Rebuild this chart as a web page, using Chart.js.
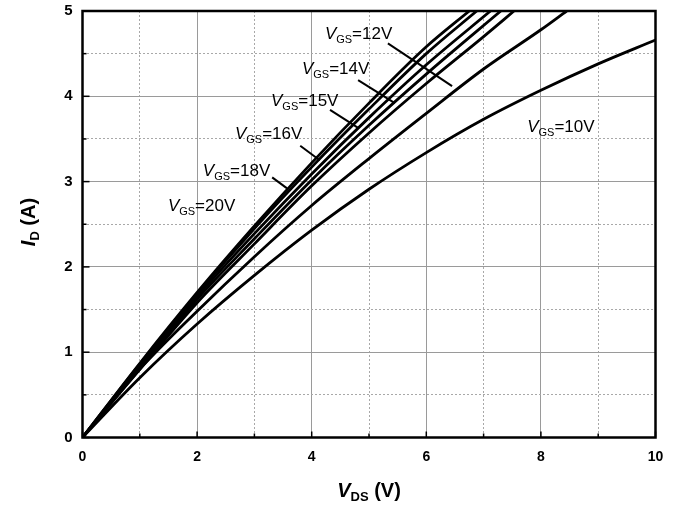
<!DOCTYPE html>
<html>
<head>
<meta charset="utf-8">
<script src="https://cdn.jsdelivr.net/npm/chart.js@4/dist/chart.umd.min.js"></script>
<style>
  body { margin: 0; background: #fff; }
  #wrap { width: 682px; height: 509px; }
</style>
</head>
<body>
<div id="wrap"><canvas id="ivChart" width="682" height="509"></canvas></div>
<script>
// Output characteristics, I_D vs V_DS for several gate voltages
const vds20 = [0, 1, 2, 3, 4, 5, 6, 6.75];
const id20  = [0, 0.87, 1.70, 2.48, 3.22, 3.92, 4.58, 5.0];
const vds18 = [0, 1, 2, 3, 4, 5, 6, 6.88];
const id18  = [0, 0.86, 1.68, 2.45, 3.17, 3.85, 4.50, 5.0];
const vds16 = [0, 1, 2, 3, 4, 5, 6, 7.12];
const id16  = [0, 0.84, 1.65, 2.39, 3.09, 3.75, 4.37, 5.0];
const vds15 = [0, 1, 2, 3, 4, 5, 6, 7.3];
const id15  = [0, 0.82, 1.62, 2.33, 3.02, 3.66, 4.26, 5.0];
const vds14 = [0, 1, 2, 3, 4, 5, 6, 7, 7.53];
const id14  = [0, 0.80, 1.58, 2.27, 2.95, 3.57, 4.15, 4.70, 5.0];
const vds12 = [0, 1, 2, 3, 4, 5, 6, 7, 8, 8.45];
const id12  = [0, 0.80, 1.48, 2.12, 2.72, 3.27, 3.80, 4.32, 4.78, 5.0];
const vds10 = [0, 1, 2, 3, 4, 5, 6, 7, 8, 9, 10];
const id10  = [0, 0.70, 1.33, 1.90, 2.43, 2.91, 3.34, 3.73, 4.07, 4.38, 4.66];

const gateVolts = ["20", "18", "16", "15", "14", "12", "10"];
const xTicks = [0, 2, 4, 6, 8, 10];
const yTicks = [0, 1, 2, 3, 4, 5];

// curve labels (data units): text anchor + leader line
const notes = [
  { v: "12", x: 4.23, y: 4.74, line: [5.33, 4.62, 6.45, 4.12] },
  { v: "14", x: 3.83, y: 4.33, line: [4.81, 4.19, 5.45, 3.92] },
  { v: "15", x: 3.29, y: 3.96, line: [4.32, 3.84, 4.81, 3.63] },
  { v: "16", x: 2.66, y: 3.57, line: [3.80, 3.42, 4.14, 3.25] },
  { v: "18", x: 2.10, y: 3.14, line: [3.31, 3.05, 3.57, 2.92] },
  { v: "20", x: 1.49, y: 2.73, line: null },
  { v: "10", x: 7.76, y: 3.65, line: null }
];

const FONT = "'Liberation Sans', Arial, sans-serif";
const pairs = (xs, ys) => xs.map((x, i) => ({ x: x, y: ys[i] }));
const curves = [[vds20, id20], [vds18, id18], [vds16, id16], [vds15, id15],
                [vds14, id14], [vds12, id12], [vds10, id10]];

const datasets = curves.map((c, i) => ({
  label: "VGS=" + gateVolts[i] + "V",
  data: pairs(c[0], c[1]),
  borderColor: "#000",
  borderWidth: 2.8,
  pointRadius: 0,
  fill: false,
  cubicInterpolationMode: "monotone"
}));

function subText(ctx, parts, x, y) {
  // parts: [text, font, dy]
  let cx = x;
  parts.forEach(p => {
    ctx.font = p[1];
    ctx.fillText(p[0], cx, y + p[2]);
    cx += ctx.measureText(p[0]).width;
  });
  return cx - x;
}
function partsWidth(ctx, parts) {
  let w = 0;
  parts.forEach(p => { ctx.font = p[1]; w += ctx.measureText(p[0]).width; });
  return w;
}

const decor = {
  id: "decor",
  afterDatasetsDraw(chart) {
    const ctx = chart.ctx, xs = chart.scales.x, ys = chart.scales.y;
    ctx.save();
    ctx.fillStyle = "#000";
    ctx.strokeStyle = "#000";
    ctx.textBaseline = "alphabetic";
    notes.forEach(n => {
      const px = xs.getPixelForValue(n.x), py = ys.getPixelForValue(n.y);
      subText(ctx, [
        ["V", "italic 17px " + FONT, 0],
        ["GS", "11px " + FONT, 4],
        ["=" + n.v + "V", "17px " + FONT, 0]
      ], px, py + 6);
      if (n.line) {
        ctx.lineWidth = 2;
        ctx.beginPath();
        ctx.moveTo(xs.getPixelForValue(n.line[0]), ys.getPixelForValue(n.line[1]));
        ctx.lineTo(xs.getPixelForValue(n.line[2]), ys.getPixelForValue(n.line[3]));
        ctx.stroke();
      }
    });
    ctx.restore();
  },
  afterDraw(chart) {
    const ctx = chart.ctx, a = chart.chartArea;
    const xs = chart.scales.x, ys = chart.scales.y;
    ctx.save();
    ctx.strokeStyle = "#000";
    // inward ticks
    ctx.lineWidth = 1.5;
    for (let v = 0; v <= 10; v++) {
      const p = xs.getPixelForValue(v), len = v % 2 === 0 ? 6 : 4;
      ctx.beginPath(); ctx.moveTo(p, a.bottom); ctx.lineTo(p, a.bottom - len); ctx.stroke();
    }
    for (let v = 0; v <= 5; v += 0.5) {
      const p = ys.getPixelForValue(v), len = v % 1 === 0 ? 7 : 4;
      ctx.beginPath(); ctx.moveTo(a.left, p); ctx.lineTo(a.left + len, p); ctx.stroke();
    }
    // frame
    ctx.lineWidth = 2.5;
    ctx.strokeRect(a.left, a.top, a.right - a.left, a.bottom - a.top);

    // axis titles
    ctx.fillStyle = "#000";
    ctx.textBaseline = "alphabetic";
    const xt = [
      ["V", "italic bold 20px " + FONT, 0],
      ["DS", "bold 13px " + FONT, 4],
      [" (V)", "bold 20px " + FONT, 0]
    ];
    const cx = (a.left + a.right) / 2;
    subText(ctx, xt, cx - partsWidth(ctx, xt) / 2, 497);

    const yt = [
      ["I", "italic bold 20px " + FONT, 0],
      ["D", "bold 13px " + FONT, 4],
      [" (A)", "bold 20px " + FONT, 0]
    ];
    ctx.translate(35, 222);
    ctx.rotate(-Math.PI / 2);
    subText(ctx, yt, -partsWidth(ctx, yt) / 2, 0);
    ctx.restore();
  }
};

const minorGrid = (isMinor) => ({
  drawTicks: false, lineWidth: 1,
  borderDash: [2, 2],
  color: c => (c.tick && isMinor(c.tick.value)) ? "#a8a8a8" : "rgba(0,0,0,0)"
});
const noPadV = s => { s.paddingTop = 0; s.paddingBottom = 0; };
const noPadH = s => { s.paddingLeft = 0; s.paddingRight = 0; };

new Chart(document.getElementById("ivChart"), {
  type: "line",
  data: { datasets: datasets },
  options: {
    responsive: false,
    animation: false,
    layout: { padding: { top: 11, right: 26.5, left: 0, bottom: 0 } },
    plugins: { legend: { display: false }, tooltip: { enabled: false } },
    scales: {
      x: {
        type: "linear", min: 0, max: 10,
        afterFit: s => { s.height = 71.5; noPadH(s); },
        afterBuildTicks: s => { s.ticks = xTicks.map(v => ({ value: v })); },
        ticks: { color: "#000", padding: 11, font: { family: FONT, size: 14, weight: "bold" } },
        grid: { color: "#9a9a9a", lineWidth: 1, drawTicks: false },
        border: { display: false }
      },
      xMinor: {
        type: "linear", position: "bottom", min: 0, max: 10,
        afterFit: s => { s.height = 0; noPadH(s); },
        ticks: { display: false, stepSize: 1 },
        grid: minorGrid(v => v % 2 === 1),
        border: { display: false, dash: [2, 2] }
      },
      y: {
        type: "linear", min: 0, max: 5,
        afterFit: s => { s.width = 82.5; noPadV(s); },
        afterBuildTicks: s => { s.ticks = yTicks.map(v => ({ value: v })); },
        ticks: { color: "#000", padding: 10, font: { family: FONT, size: 15, weight: "bold" } },
        grid: { color: "#9a9a9a", lineWidth: 1, drawTicks: false },
        border: { display: false }
      },
      yMinor: {
        type: "linear", position: "left", min: 0, max: 5,
        afterFit: s => { s.width = 0; noPadV(s); },
        ticks: { display: false, stepSize: 0.5 },
        grid: minorGrid(v => v % 1 !== 0),
        border: { display: false, dash: [2, 2] }
      }
    }
  },
  plugins: [decor]
});
</script>
</body>
</html>
